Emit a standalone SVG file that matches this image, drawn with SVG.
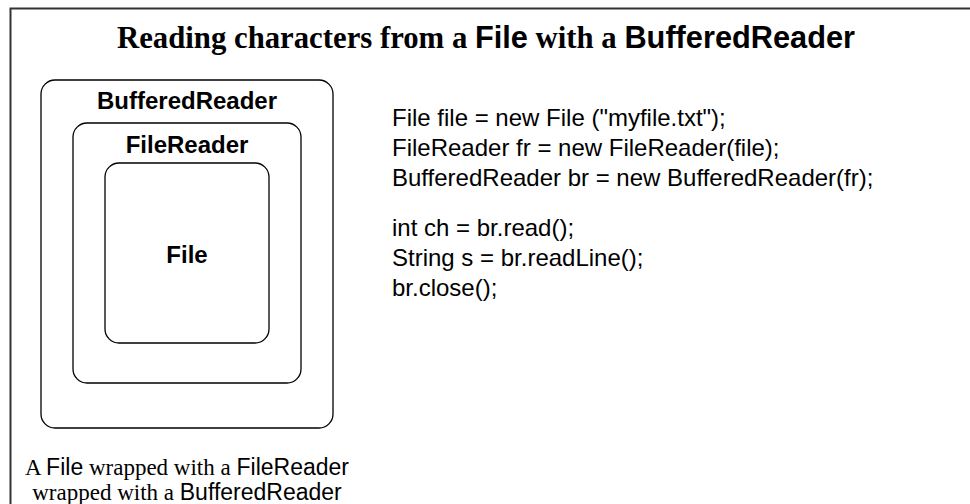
<svg xmlns="http://www.w3.org/2000/svg" width="970" height="504" viewBox="0 0 970 504">
<style>
.serif{font-family:"Liberation Serif","Times New Roman",serif;fill:#000}
.sans{font-family:"Liberation Sans",Arial,sans-serif;fill:#000}
.box{fill:#fff;stroke:#000;stroke-width:1.3}
.lbl{font-family:"Liberation Sans",Arial,sans-serif;font-weight:bold;font-size:24px;text-anchor:middle;fill:#000}
.code{font-family:"Liberation Sans",Arial,sans-serif;font-size:24px;fill:#000}
</style>
<rect width="970" height="504" fill="#fff"/>
<path d="M10.5 504 V8.5 H970" fill="none" stroke="#333" stroke-width="2"/>
<text id="title" x="117" y="48" font-size="31" font-weight="bold" class="serif" textLength="738" lengthAdjust="spacingAndGlyphs">Reading characters from a <tspan class="sans">File</tspan> with a <tspan class="sans">BufferedReader</tspan></text>
<g id="buffered-reader">
<rect class="box" x="41" y="80" width="292" height="348" rx="14"/>
<text class="lbl" x="187" y="109">BufferedReader</text>
</g>
<g id="file-reader">
<rect class="box" x="73" y="123" width="228" height="260" rx="14"/>
<text class="lbl" x="187" y="153">FileReader</text>
</g>
<g id="file">
<rect class="box" x="105" y="163" width="164" height="180" rx="14"/>
<text class="lbl" x="187" y="263">File</text>
</g>
<g id="connectors"></g>
<g id="code">
<text class="code" x="392" y="126">File file = new File ("myfile.txt");</text>
<text class="code" x="392" y="156">FileReader fr = new FileReader(file);</text>
<text class="code" x="392" y="186">BufferedReader br = new BufferedReader(fr);</text>
<text class="code" x="392" y="236">int ch = br.read();</text>
<text class="code" x="392" y="266">String s = br.readLine();</text>
<text class="code" x="392" y="296">br.close();</text>
</g>
<g id="caption" font-size="23">
<text class="serif" x="187" y="475" text-anchor="middle">A <tspan class="sans">File</tspan> wrapped with a <tspan class="sans">FileReader</tspan></text>
<text class="serif" x="187" y="500" text-anchor="middle">wrapped with a <tspan class="sans">BufferedReader</tspan></text>
</g>
</svg>
